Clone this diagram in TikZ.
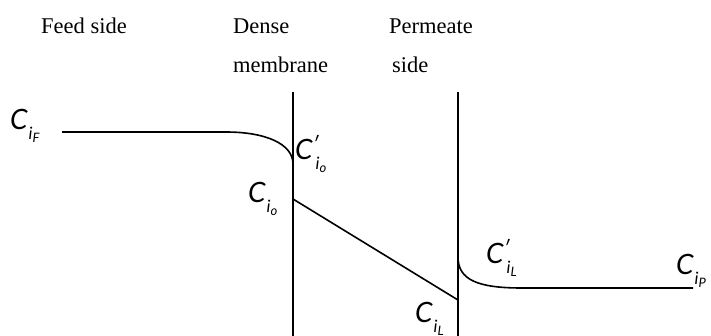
\documentclass[tikz,border=0pt]{standalone}
\usepackage{fontspec}
\setmainfont{Liberation Serif}
\setsansfont{Lato}
\newcommand{\csub}[1]{\raisebox{-10pt}{\fontsize{17}{17}\selectfont i\raisebox{-3pt}{\fontsize{13}{13}\selectfont #1}}}
\newcommand{\conc}[1]{{\fontsize{28}{28}\selectfont C}\hspace{1pt}\csub{#1}}
\newcommand{\concp}[1]{{\fontsize{28}{28}\selectfont C}\rlap{\raisebox{8pt}{\fontsize{20}{20}\selectfont \char"2032}}\hspace{3pt}\csub{#1}}
\tikzset{
  wall/.style={line width=1.6pt},
  prof/.style={line width=1.6pt},
  head/.style={inner sep=0pt, anchor=base west, font=\fontsize{22.5}{26}\selectfont},
  lab/.style={inner sep=0pt, anchor=base west, font=\sffamily\itshape}
}
\begin{document}
\begin{tikzpicture}[x=1pt,y=-1pt]
\useasboundingbox (0,0) rectangle (711,335);
% headings
\node[head] (feed) at (41,33) {Feed side};
\node[head] (dense) at (233,33) {Dense};
\node[head] (memb) at (233,72) {membrane};
\node[head] (perm) at (389,33) {Permeate};
\node[head] (pside) at (392,72) {side};
% membrane walls
\coordinate (w1t) at (293,92);
\coordinate (w1b) at (293,336);
\coordinate (w2t) at (458,92);
\coordinate (w2b) at (458,336);
\draw[wall] (w1t) -- (w1b);
\draw[wall] (w2t) -- (w2b);
% profile points
\coordinate (f0) at (62,132);
\coordinate (f1) at (226,132);
\coordinate (io1) at (293,164);
\coordinate (io) at (293,199);
\coordinate (iL) at (458,300);
\coordinate (iL1) at (458,257);
\coordinate (p1) at (522,288);
\coordinate (p0) at (693,288);
\draw[prof] (f0) -- (f1) .. controls (266,132) and (293,144) .. (io1);
\draw[prof] (io) -- (iL);
\draw[prof] (iL1) .. controls (458,280) and (478,288) .. (p1) -- (p0);
% labels
\node[lab] (cF) at (10,129) {\conc{F}};
\node[lab] (cio1) at (295,159) {\concp{o}};
\node[lab] (cio) at (248,202) {\conc{o}};
\node[lab] (ciL) at (415,322) {\conc{L}};
\node[lab] (ciL1) at (486,263) {\concp{L}};
\node[lab] (ciP) at (676,274) {\conc{P}};
\end{tikzpicture}
\end{document}
